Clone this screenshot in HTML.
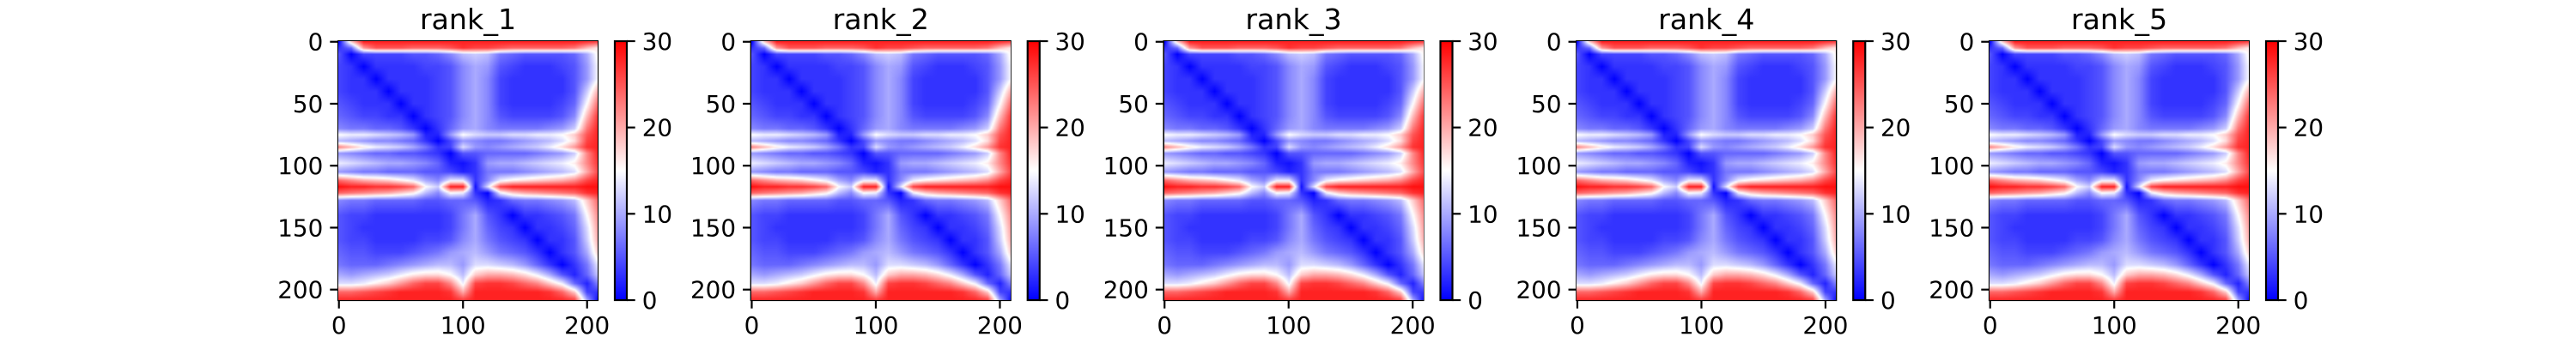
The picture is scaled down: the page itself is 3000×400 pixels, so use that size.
<!DOCTYPE html>
<html><head><meta charset="utf-8"><style>
body{margin:0;background:#fff;width:3000px;height:400px;overflow:hidden;position:relative;font-family:"DejaVu Sans","Liberation Sans",sans-serif}
canvas{position:absolute}
svg{position:absolute;left:0;top:0}
</style></head><body>
<svg id="axes" width="3000" height="400"></svg>
<script>
// residue indices of sampled rows / columns (data categories)
const rowRes=[0,5,10,20,30,40,50,60,70,75,80,85,90,98,105,112,117,122,128,140,150,160,170,180,188,195,202,209];
const colRes=[0,10,20,30,40,50,60,70,80,90,100,110,120,130,140,150,160,170,180,190,200,209];
const r00=[0,18,28,28,28,28,28,28,28,28,28,28,28,28,28,28,28,28,28,28,27,26];
const r05=[3,6,21,25,25,25,24,24,24,25,27,26,26,25,24,24,24,24,24,23,19,16];
const r10=[5,0,4,4,4,4,5,5,6,8,11,12,11,7,6,5,5,5,5,6,10,16];
const r20=[4,3,0,3,3,3,3,4,4,5,8,10,9,5,4,3,3,3,4,5,9,15];
const r30=[4,3,3,0,3,3,3,3,4,5,8,10,8,4,3,3,3,3,3,5,9,15];
const r40=[4,3,3,3,0,3,3,3,4,5,8,10,8,4,3,3,3,3,3,5,12,20];
const r50=[5,4,3,3,3,0,3,3,4,5,8,10,8,4,3,3,3,3,4,6,15,24];
const r60=[6,5,4,4,3,3,0,3,4,5,8,10,8,5,4,4,4,4,5,8,19,27];
const r70=[8,7,7,6,6,5,3,0,3,6,9,10,8,7,7,7,7,8,9,12,23,28];
const r75=[15,14,14,13,12,11,9,2,2,9,15,13,12,12,13,13,14,14,15,18,25,28];
const r80=[11,10,9,8,8,7,6,3,0,4,9,8,7,7,8,9,10,11,13,17,26,28];
const r85=[22,19,16,14,13,12,10,7,3,4,13,9,8,9,10,11,12,14,17,21,27,28];
const r90=[9,8,7,6,6,5,5,4,3,0,5,5,6,6,6,6,7,8,9,12,22,28];
const r98=[14,13,12,11,10,10,9,8,6,2,1,3,9,10,10,11,12,13,14,16,22,27];
const r105=[9,8,7,7,6,6,6,5,5,4,2,3,7,7,7,8,9,10,11,13,20,26];
const r112=[24,22,20,19,18,16,14,10,8,14,14,3,8,14,16,17,18,19,20,22,26,28];
const r117=[29,28,28,27,27,26,24,15,12,28,28,1,13,26,28,28,28,28,28,28,29,29];
const r122=[24,23,22,21,20,18,16,11,8,15,14,3,0,14,18,20,21,22,23,24,27,28];
const r128=[8,7,7,6,6,6,6,5,5,6,6,5,2,3,6,7,7,8,9,11,18,24];
const r140=[5,4,4,3,3,3,3,3,3,4,7,10,5,3,0,3,3,4,5,7,15,22];
const r150=[5,4,3,3,3,3,3,3,3,4,7,10,6,4,3,0,3,3,4,6,13,21];
const r160=[5,4,4,3,3,3,3,4,4,5,8,10,7,5,4,3,0,3,3,5,12,20];
const r170=[6,5,5,4,4,4,5,6,7,9,10,11,9,7,6,5,3,0,3,5,10,18];
const r180=[7,6,6,6,7,8,9,10,11,11,9,13,13,12,11,9,6,3,0,3,7,14];
const r188=[10,9,10,11,12,14,16,17,17,15,11,18,20,20,19,17,14,10,5,2,6,12];
const r195=[13,13,14,16,18,21,24,26,26,22,14,26,27,27,26,24,22,18,14,6,2,8];
const r202=[24,24,25,26,27,28,28,28,28,27,20,28,28,28,28,28,28,27,24,18,4,3];
const r209=[28,28,28,28,28,28,28,28,28,28,27,28,28,28,28,28,28,28,28,27,10,0];
const pae=[r00,r05,r10,r20,r30,r40,r50,r60,r70,r75,r80,r85,r90,r98,r105,r112,r117,r122,r128,r140,r150,r160,r170,r180,r188,r195,r202,r209];
const panelTitles=["rank_1","rank_2","rank_3","rank_4","rank_5"];
const xTicks=[0,100,200];
const yTicks=[0,50,100,150,200];
const cbTicks=[0,10,20,30];
const vmax=30, N=209;

const NS="http://www.w3.org/2000/svg";
const svg=document.getElementById('axes');
function mk(tag,attrs,parent){const e=document.createElementNS(NS,tag);for(const k in attrs)e.setAttribute(k,attrs[k]);(parent||svg).appendChild(e);return e;}
function color(v){let t=Math.max(0,Math.min(1,v/vmax));let r,g,b;
 if(t<0.5){const u=t/0.5;r=255*u;g=255*u;b=255;}else{const u=(t-0.5)/0.5;r=255;g=255*(1-u);b=255*(1-u);}
 return [r,g,b];}
function seg(arr,x){let i=0;while(i<arr.length-2&&x>arr[i+1])i++;const f=(x-arr[i])/(arr[i+1]-arr[i]);return [i,Math.max(0,Math.min(1,f))];}
function val(r,c){const [i,fi]=seg(rowRes,r),[j,fj]=seg(colRes,c);
 const a=pae[i][j],b=pae[i][j+1],d=pae[i+1][j],e=pae[i+1][j+1];
 return (a*(1-fj)+b*fj)*(1-fi)+(d*(1-fj)+e*fj)*fi;}

const L0=394,T=48,S=302,DX=480.75,fs=27.8,tl=9.7,lw=2.2;
const sc=S/N;
panelTitles.forEach((title,p)=>{
 const L=L0+p*DX;
 const g=mk('g',{});
 
 
 const cv=document.createElement('canvas');
 cv.width=N;cv.height=N;
 cv.style.left=L+'px';cv.style.top=T+'px';cv.style.width=S+'px';cv.style.height=S+'px';
 
 
 document.body.appendChild(cv);
 const ctx=cv.getContext('2d');const img=ctx.createImageData(N,N);
 for(let r=0;r<N;r++)for(let c=0;c<N;c++){const [R,G,B]=color(val(r,c));const k=(r*N+c)*4;img.data[k]=R;img.data[k+1]=G;img.data[k+2]=B;img.data[k+3]=255;}
 ctx.putImageData(img,0,0);
 const t=mk('text',{x:L+S/2,y:T-14,'text-anchor':'middle','font-size':33.3},g);t.textContent=title;
 
 const fr=mk('rect',{x:L,y:T,width:S,height:S,fill:'none',stroke:'#000','stroke-width':lw},g);
 
 xTicks.forEach(v=>{const x=L+(v+0.5)*sc;
  mk('line',{x1:x,x2:x,y1:T+S,y2:T+S+tl,stroke:'#000','stroke-width':lw},g);
  const tx=mk('text',{x:x,y:T+S+tl+8+fs*0.76,'text-anchor':'middle','font-size':fs},g);tx.textContent=v;
  });
 yTicks.forEach(v=>{const y=T+(v+0.5)*sc;
  mk('line',{x1:L-tl,x2:L,y1:y,y2:y,stroke:'#000','stroke-width':lw},g);
  const ty=mk('text',{x:L-tl-8,y:y+fs*0.36,'text-anchor':'end','font-size':fs},g);ty.textContent=v;
  });
 const CL=L+322,CW=14;
 const gid='cbg'+p;
 const defs=mk('defs',{},g);const lg=mk('linearGradient',{id:gid,x1:0,y1:1,x2:0,y2:0},defs);
 [[0,'#0000ff'],[0.5,'#ffffff'],[1,'#ff0000']].forEach(s=>mk('stop',{offset:s[0],'stop-color':s[1]},lg));
 const cb=mk('rect',{x:CL,y:T,width:CW,height:S,fill:'url(#'+gid+')',stroke:'#000','stroke-width':lw},g);
 
 cbTicks.forEach(v=>{const y=T+S-(v/vmax)*S;
  mk('line',{x1:CL+CW,x2:CL+CW+tl,y1:y,y2:y,stroke:'#000','stroke-width':lw},g);
  const tc=mk('text',{x:CL+CW+tl+8,y:y+fs*0.36,'font-size':fs},g);tc.textContent=v;
  });
});
</script>
</body></html>
